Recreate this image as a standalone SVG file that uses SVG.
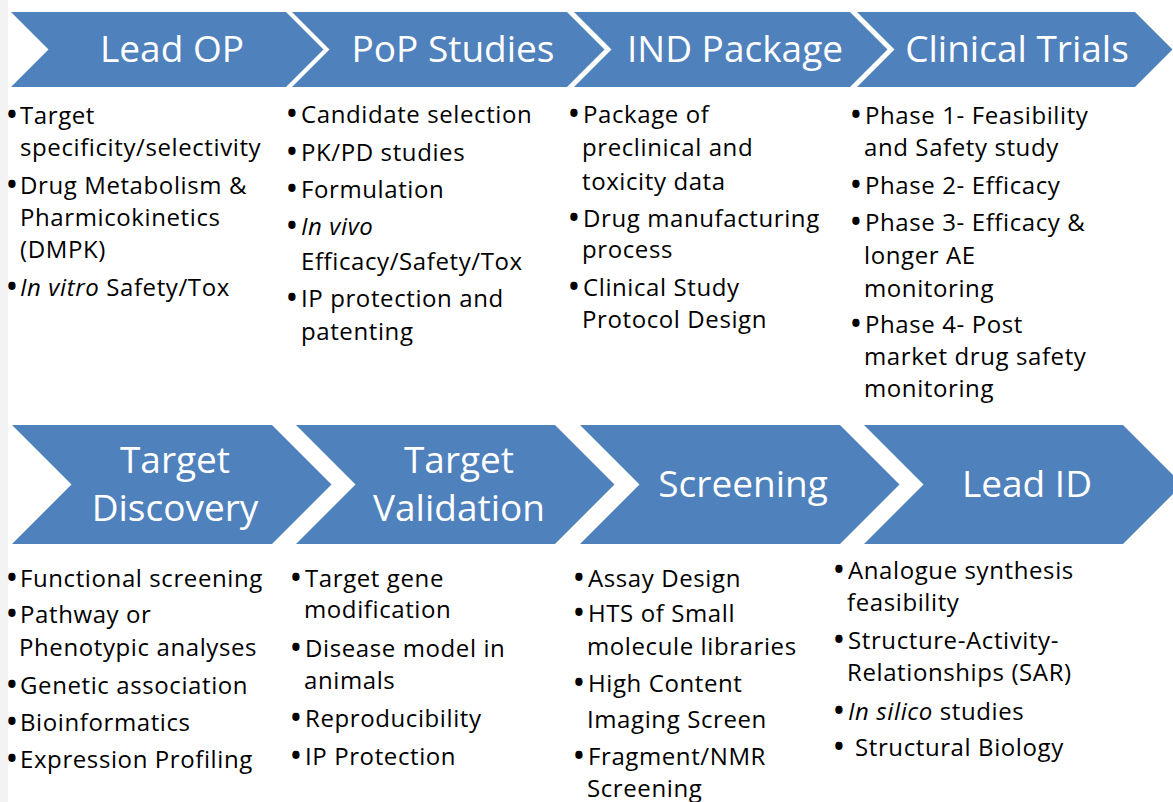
<svg xmlns="http://www.w3.org/2000/svg" width="1173" height="802" viewBox="0 0 1173 802">
  <style>
    .chev { fill: #4F81BD; }
    .head { font-family: "Open Sans", "Noto Sans", sans-serif; font-size: 37px; fill: #FFFFFF; text-anchor: middle; }
    .item { font-family: "Open Sans", "Noto Sans", sans-serif; font-size: 24px; fill: #000000; letter-spacing: 0.6px; }
    .b { font-size: 26px; font-weight: bold; letter-spacing: 0; }
    .it { font-style: italic; }
  </style>
  <rect x="0" y="0" width="1173" height="802" fill="#FFFFFF"/>
  <rect x="0" y="0" width="8" height="802" fill="#F3F3F3"/>

  <!-- Upper row: later stages -->
  <g id="lead-op">
    <path class="chev" d="M11,12 H286 L323.5,49.5 L286,87 H11 L48.5,49.5 Z"/>
    <text class="head" x="172" y="62">Lead OP</text>
    <text class="item"><tspan class="b" x="7" y="124">•</tspan><tspan x="20">Target</tspan></text>
    <text class="item" x="20" y="156">specificity/selectivity</text>
    <text class="item"><tspan class="b" x="7" y="194">•</tspan><tspan x="20">Drug Metabolism &amp;</tspan></text>
    <text class="item" x="20" y="226">Pharmicokinetics</text>
    <text class="item" x="20" y="258">(DMPK)</text>
    <text class="item"><tspan class="b" x="7" y="296">•</tspan><tspan x="20" class="it">In vitro</tspan><tspan> Safety/Tox</tspan></text>
  </g>

  <g id="pop-studies">
    <path class="chev" d="M292,12 H567 L604.5,49.5 L567,87 H292 L329.5,49.5 Z"/>
    <text class="head" x="453" y="62">PoP Studies</text>
    <text class="item"><tspan class="b" x="287" y="123">•</tspan><tspan x="301">Candidate selection</tspan></text>
    <text class="item"><tspan class="b" x="287" y="161">•</tspan><tspan x="301">PK/PD studies</tspan></text>
    <text class="item"><tspan class="b" x="287" y="198">•</tspan><tspan x="301">Formulation</tspan></text>
    <text class="item"><tspan class="b" x="287" y="235">•</tspan><tspan x="301" class="it">In vivo</tspan></text>
    <text class="item" x="301" y="270">Efficacy/Safety/Tox</text>
    <text class="item"><tspan class="b" x="287" y="307">•</tspan><tspan x="301">IP protection and</tspan></text>
    <text class="item" x="301" y="340">patenting</text>
  </g>

  <g id="ind-package">
    <path class="chev" d="M574,12 H850 L887.5,49.5 L850,87 H574 L611.5,49.5 Z"/>
    <text class="head" x="735" y="62">IND Package</text>
    <text class="item"><tspan class="b" x="569" y="123">•</tspan><tspan x="583">Package of</tspan></text>
    <text class="item" x="582" y="156">preclinical and</text>
    <text class="item" x="582" y="190">toxicity data</text>
    <text class="item"><tspan class="b" x="569" y="227">•</tspan><tspan x="583">Drug manufacturing</tspan></text>
    <text class="item" x="582" y="258">process</text>
    <text class="item"><tspan class="b" x="569" y="296">•</tspan><tspan x="583">Clinical Study</tspan></text>
    <text class="item" x="582" y="328">Protocol Design</text>
  </g>

  <g id="clinical-trials">
    <path class="chev" d="M857,12 H1135 L1172.5,49.5 L1135,87 H857 L894.5,49.5 Z"/>
    <text class="head" x="1017" y="62">Clinical Trials</text>
    <text class="item"><tspan class="b" x="851" y="124">•</tspan><tspan x="865">Phase 1- Feasibility</tspan></text>
    <text class="item" x="864" y="156">and Safety study</text>
    <text class="item"><tspan class="b" x="851" y="194">•</tspan><tspan x="865">Phase 2- Efficacy</tspan></text>
    <text class="item"><tspan class="b" x="851" y="231">•</tspan><tspan x="865">Phase 3- Efficacy &amp;</tspan></text>
    <text class="item" x="864" y="264">longer AE</text>
    <text class="item" x="864" y="297">monitoring</text>
    <text class="item"><tspan class="b" x="851" y="333">•</tspan><tspan x="865">Phase 4- Post</tspan></text>
    <text class="item" x="864" y="365">market drug safety</text>
    <text class="item" x="864" y="397">monitoring</text>
  </g>

  <!-- Lower row: early stages -->
  <g id="target-discovery">
    <path class="chev" d="M12,425 H272 L331.5,484.5 L272,544 H12 L71.5,484.5 Z"/>
    <text class="head" x="175" y="473">Target</text>
    <text class="head" x="175" y="521">Discovery</text>
    <text class="item"><tspan class="b" x="7" y="587">•</tspan><tspan x="20">Functional screening</tspan></text>
    <text class="item"><tspan class="b" x="7" y="623">•</tspan><tspan x="20">Pathway or</tspan></text>
    <text class="item" x="19" y="656">Phenotypic analyses</text>
    <text class="item"><tspan class="b" x="7" y="694">•</tspan><tspan x="20">Genetic association</tspan></text>
    <text class="item"><tspan class="b" x="7" y="731">•</tspan><tspan x="20">Bioinformatics</tspan></text>
    <text class="item"><tspan class="b" x="7" y="768">•</tspan><tspan x="20">Expression Profiling</tspan></text>
  </g>

  <g id="target-validation">
    <path class="chev" d="M296,425 H555 L614.5,484.5 L555,544 H296 L355.5,484.5 Z"/>
    <text class="head" x="459" y="473">Target</text>
    <text class="head" x="459" y="521">Validation</text>
    <text class="item"><tspan class="b" x="291" y="587">•</tspan><tspan x="305">Target gene</tspan></text>
    <text class="item" x="304" y="618">modification</text>
    <text class="item"><tspan class="b" x="291" y="657">•</tspan><tspan x="305">Disease model in</tspan></text>
    <text class="item" x="304" y="689">animals</text>
    <text class="item"><tspan class="b" x="291" y="727">•</tspan><tspan x="305">Reproducibility</tspan></text>
    <text class="item"><tspan class="b" x="291" y="765">•</tspan><tspan x="305">IP Protection</tspan></text>
  </g>

  <g id="screening">
    <path class="chev" d="M580,425 H840 L899.5,484.5 L840,544 H580 L639.5,484.5 Z"/>
    <text class="head" x="743" y="497">Screening</text>
    <text class="item"><tspan class="b" x="574" y="587">•</tspan><tspan x="588">Assay Design</tspan></text>
    <text class="item"><tspan class="b" x="574" y="622">•</tspan><tspan x="588">HTS of Small</tspan></text>
    <text class="item" x="587" y="655">molecule libraries</text>
    <text class="item"><tspan class="b" x="574" y="692">•</tspan><tspan x="588">High Content</tspan></text>
    <text class="item" x="587" y="728">Imaging Screen</text>
    <text class="item"><tspan class="b" x="574" y="765">•</tspan><tspan x="588">Fragment/NMR</tspan></text>
    <text class="item" x="587" y="797">Screening</text>
  </g>

  <g id="lead-id">
    <path class="chev" d="M864,425 H1123 L1182.5,484.5 L1123,544 H864 L923.5,484.5 Z"/>
    <text class="head" x="1027" y="497">Lead ID</text>
    <text class="item"><tspan class="b" x="834" y="579">•</tspan><tspan x="848">Analogue synthesis</tspan></text>
    <text class="item" x="847" y="611">feasibility</text>
    <text class="item"><tspan class="b" x="834" y="649">•</tspan><tspan x="848">Structure-Activity-</tspan></text>
    <text class="item" x="847" y="681">Relationships (SAR)</text>
    <text class="item"><tspan class="b" x="834" y="720">•</tspan><tspan x="848" class="it">In silico</tspan><tspan> studies</tspan></text>
    <text class="item"><tspan class="b" x="834" y="756">•</tspan><tspan x="855">Structural Biology</tspan></text>
  </g>

  <g id="connectors"></g>
</svg>
